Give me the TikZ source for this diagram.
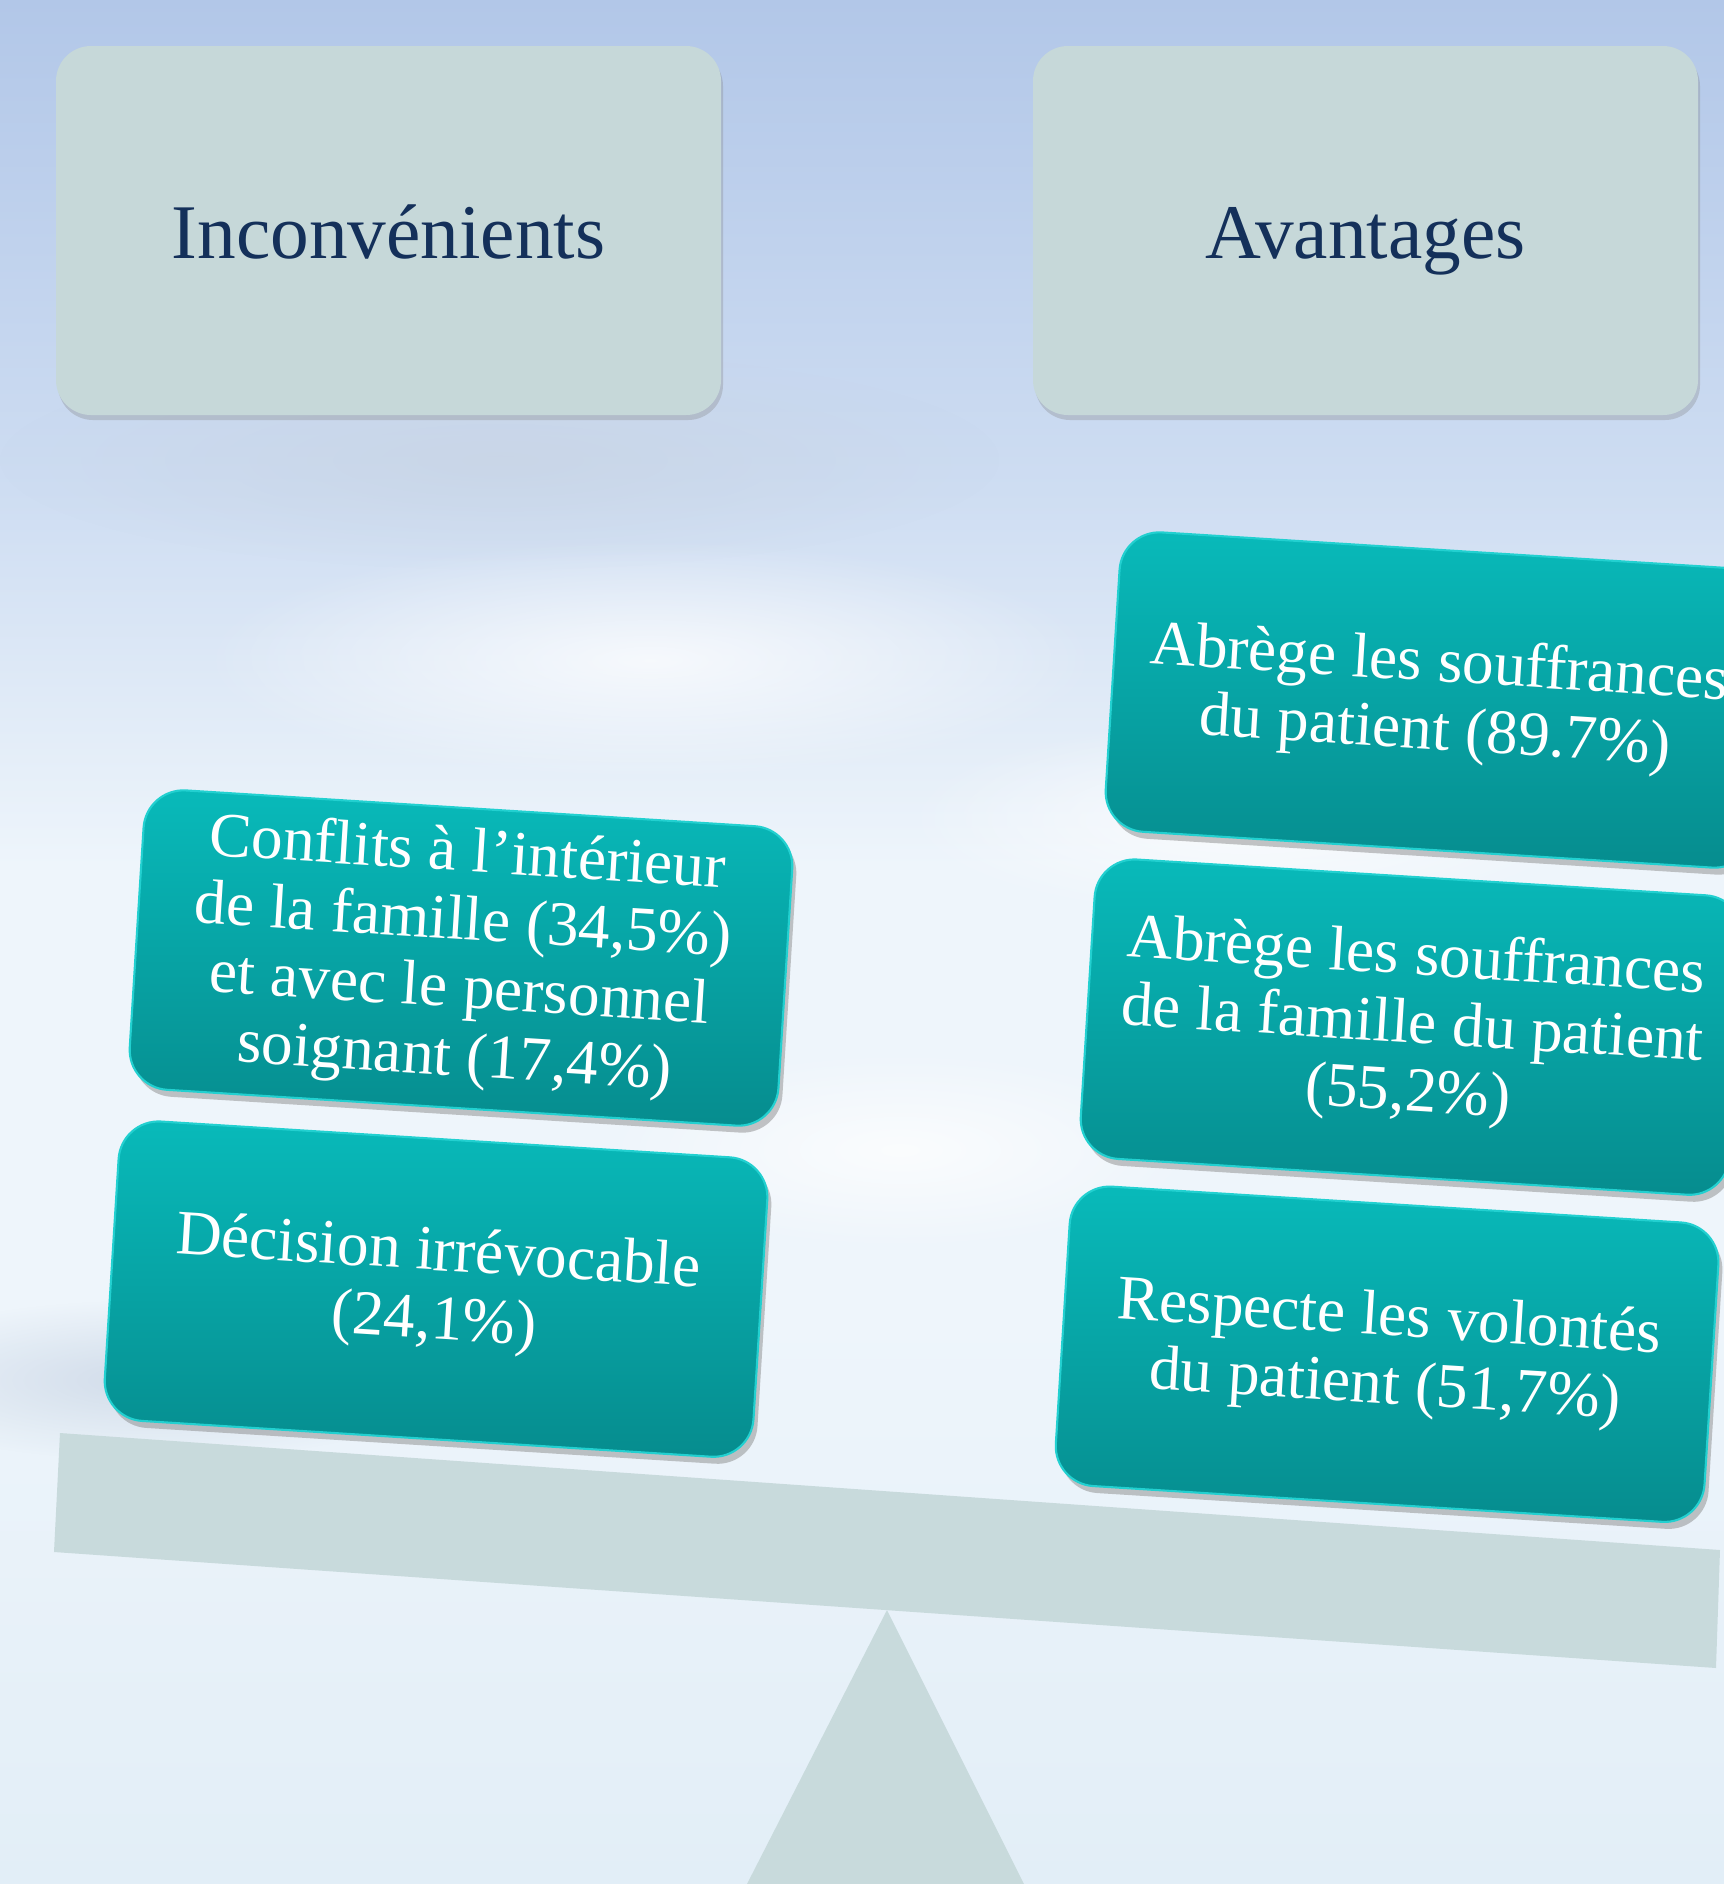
\documentclass[tikz,border=0pt]{standalone}
\usepackage{fontspec}
\setmainfont{Liberation Serif}
\usetikzlibrary{positioning,shadows,fadings}
\definecolor{skytop}{RGB}{178,199,232}
\definecolor{skymid}{RGB}{206,221,242}
\definecolor{skylow}{RGB}{238,245,251}
\definecolor{skybottom}{RGB}{226,238,247}
\definecolor{headfill}{RGB}{198,216,217}
\definecolor{headtext}{RGB}{20,48,90}
\definecolor{tealtop}{RGB}{8,186,186}
\definecolor{tealbottom}{RGB}{6,140,142}
\definecolor{tealedge}{RGB}{34,208,208}
\definecolor{beamcol}{RGB}{200,218,220}
\definecolor{cloudgrey}{RGB}{200,212,228}
% path covers 25bp..75bp of the shading
\pgfdeclareverticalshading{skyshade}{100bp}{color(0bp)=(skybottom); color(25bp)=(skybottom); color(40bp)=(skylow); color(52bp)=(skylow); color(62bp)=(skymid); color(75bp)=(skytop); color(100bp)=(skytop)}
\tikzfading[name=cloudfade, inner color=transparent!25, outer color=transparent!100]

\begin{document}
\begin{tikzpicture}[
    hbox/.style={rectangle, rounded corners=0.35cm, minimum width=6.65cm, minimum height=3.69cm, fill=headfill, text=headtext, font=\fontsize{22}{26}\selectfont, text height=16pt, text depth=0pt, drop shadow={opacity=0.3, shadow xshift=0.02cm, shadow yshift=-0.05cm}},
    tbox/.style={rectangle, rounded corners=0.4cm, minimum width=6.5cm, minimum height=3cm, top color=tealtop, bottom color=tealbottom, draw=tealedge, line width=0.6pt, text=white, font=\fontsize{18}{19.4}\selectfont, align=center, rotate=-3.6, drop shadow={opacity=0.45, shadow xshift=0.04cm, shadow yshift=-0.07cm}},
    cloud/.style={fill=white, path fading=cloudfade}
]
\useasboundingbox (0,0) rectangle (17.24,-18.84);
\clip (0,0) rectangle (17.24,-18.84);

% === SKY ===
\shade[shading=skyshade] (0,0) rectangle (17.24,-18.84);
\fill[cloudgrey, path fading=cloudfade] (5,-4.6) ellipse (5 and 1.1);
\fill[cloud] (6.5,-6.6) ellipse (4.5 and 1.2);
\fill[cloud] (12.5,-8.2) ellipse (3.5 and 1);
\fill[cloudgrey, path fading=cloudfade] (1.5,-13.8) ellipse (3 and 0.8);
\fill[cloud] (9,-11.5) ellipse (3 and 1);

% === BALANCE ===
\fill[beamcol] (8.87,-16.10) -- (10.24,-18.84) -- (7.47,-18.84) -- cycle;
\fill[beamcol] (0.60,-14.33) -- (17.20,-15.50) -- (17.16,-16.68) -- (0.54,-15.52) -- cycle;

% === HEADERS ===
\node[hbox] (inconv) at (3.885,-2.305) {Inconvénients};
\node[hbox] (avant) at (13.655,-2.305) {Avantages};

% === INCONVENIENTS (left) ===
\node[tbox] (conflits) at (4.61,-9.58) {Conflits à l’intérieur\\de la famille (34,5\%)\\et avec le personnel\\soignant (17,4\%)};
\node[tbox, below=0.3cm of conflits, xshift=-0.06cm] (decision) {Décision irrévocable\\(24,1\%)};

% === AVANTAGES (right) ===
\node[tbox] (abrege_patient) at (14.37,-7.00) {Abrège les souffrances\\du patient (89.7\%)};
\node[tbox, below=0.26cm of abrege_patient, xshift=-0.06cm] (abrege_famille) {Abrège les souffrances\\de la famille du patient\\(55,2\%)};
\node[tbox, below=0.26cm of abrege_famille, xshift=-0.06cm] (volontes) {Respecte les volontés\\du patient (51,7\%)};

\end{tikzpicture}
\end{document}
